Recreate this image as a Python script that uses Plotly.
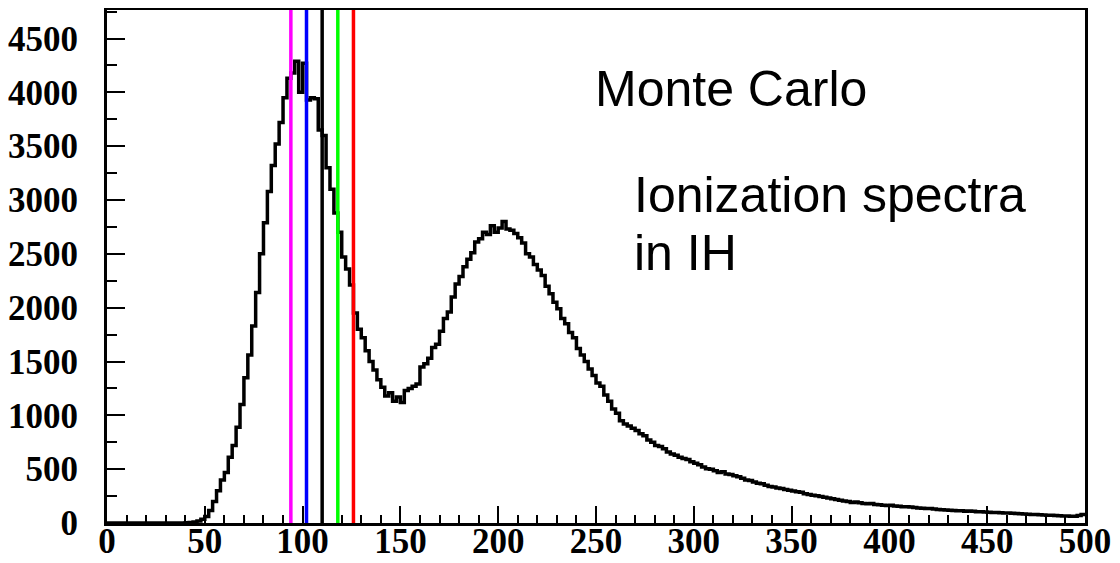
import numpy as np
import plotly.graph_objects as go

# Histogram: bins of width 2 from 0 to 500 (counts per bin)
bin_width = 2
x_min, x_max = 0, 500
counts = [
    0, 0, 0, 0, 0, 0, 0, 0, 0, 0, 0, 0, 0, 0, 0, 0, 0, 0, 0, 0,  # 0-38
    2, 5, 10, 18, 35, 60, 115, 200, 300, 400,                     # 40-58
    470, 610, 720, 890, 1100, 1350, 1560, 1830, 2140, 2500,       # 60-78
    2790, 3080, 3320, 3520, 3720, 3950, 4130, 4180, 4290, 4000,   # 80-98
    4270, 3930, 3950, 3940, 3650, 3600, 3300, 3100, 2880, 2700,   # 100-118
    2470, 2360, 2210, 1950, 1800, 1720, 1600, 1500, 1420, 1330,   # 120-138
    1260, 1180, 1210, 1130, 1170, 1120, 1230, 1250, 1270, 1290,   # 140-158
    1450, 1480, 1530, 1630, 1660, 1780, 1900, 1960, 2100, 2220,   # 160-178
    2290, 2380, 2450, 2510, 2610, 2640, 2700, 2680, 2760, 2700,   # 180-198
    2740, 2800, 2730, 2720, 2690, 2650, 2600, 2500, 2470, 2400,   # 200-218
    2350, 2300, 2200, 2130, 2050, 1990, 1900, 1850, 1770, 1720,   # 220-238
    1620, 1560, 1500, 1430, 1370, 1300, 1270, 1190, 1130, 1060,   # 240-258
    1020, 950, 920, 900, 880, 860, 830, 810, 770, 750,            # 260-278
    720, 710, 690, 660, 640, 630, 610, 600, 590, 570,             # 280-298
    555, 540, 520, 505, 500, 485, 470, 475, 455, 450,             # 300-318
    440, 430, 415, 400, 395, 380, 370, 365, 350, 340,             # 320-338
    335, 325, 320, 312, 305, 298, 290, 285, 272, 265,             # 340-358
    258, 252, 245, 240, 232, 225, 218, 212, 205, 200,             # 360-378
    190, 196, 188, 182, 178, 180, 172, 170, 166, 162,             # 380-398
    164, 158, 155, 152, 150, 148, 145, 140, 138, 135,             # 400-418
    134, 130, 126, 124, 120, 118, 116, 114, 113, 110,             # 420-438
    112, 108, 105, 104, 102, 101, 98, 97, 95, 94,                 # 440-458
    93, 90, 88, 85, 83, 81, 80, 78, 76, 74,                       # 460-478
    72, 72, 70, 68, 66, 64, 62, 63, 70, 78,                       # 480-498
]

# Vertical marker lines (x positions) and colours
marker_x = [94, 102, 110, 118, 126]
marker_colors = ["#ff00ff", "#0000ff", "#000000", "#00ff00", "#ff0000"]

x_ticks = list(range(0, 501, 50))
y_ticks = list(range(0, 4501, 500))
y_max = 4765

edges = np.arange(x_min, x_max + bin_width, bin_width)
y_step = list(counts) + [counts[-1]]

fig = go.Figure()
fig.add_trace(go.Scatter(
    x=edges, y=y_step, mode="lines", line=dict(shape="hv", color="black", width=3.5),
    showlegend=False, hoverinfo="skip",
))

for xv, col in zip(marker_x, marker_colors):
    fig.add_shape(type="line", x0=xv, x1=xv, y0=0, y1=1, xref="x", yref="y domain",
                  line=dict(color=col, width=3.5), layer="above")

tick_font = dict(family="Liberation Serif", size=35, color="black", weight="bold")

# page body has an 8px offset; margins compensate so the plot area sits at
# x 107..1085, y 10..523 in the window
fig.update_layout(
    width=1120, height=563,
    margin=dict(l=99, r=43, t=2, b=48, autoexpand=False),
    paper_bgcolor="white", plot_bgcolor="white",
    xaxis=dict(range=[x_min, x_max], tickvals=x_ticks, ticks="inside", ticklen=17,
               tickwidth=1.5, tickcolor="black", showline=True, linecolor="black",
               linewidth=3, mirror=True, showgrid=False, zeroline=False,
               tickfont=tick_font, ticklabelstandoff=-15, automargin=False,
               minor=dict(dtick=10, ticks="inside", ticklen=8, tickwidth=1.5,
                          tickcolor="black", showgrid=False)),
    yaxis=dict(range=[0, y_max], tickvals=y_ticks, ticks="inside", ticklen=18,
               tickwidth=1.5, tickcolor="black", showline=True, linecolor="black",
               linewidth=3, mirror=True, showgrid=False, zeroline=False,
               tickfont=tick_font, ticklabelstandoff=19, automargin=False,
               minor=dict(dtick=250, ticks="inside", ticklen=10, tickwidth=1.5,
                          tickcolor="black", showgrid=False)),
)

text_font = dict(family="Liberation Sans", size=50, color="black")
px0, pw, py0, ph = 107, 978, 523, 513
fig.add_annotation(text="Monte Carlo", x=(593 - px0) / pw, y=(py0 - 88.5) / ph,
                   xref="paper", yref="paper", xanchor="left", yanchor="middle",
                   showarrow=False, font=text_font)
fig.add_annotation(text="Ionization spectra", x=(632 - px0) / pw, y=(py0 - 195.5) / ph,
                   xref="paper", yref="paper", xanchor="left", yanchor="middle",
                   showarrow=False, font=text_font)
fig.add_annotation(text="in IH", x=(632 - px0) / pw, y=(py0 - 252.5) / ph,
                   xref="paper", yref="paper", xanchor="left", yanchor="middle",
                   showarrow=False, font=text_font)

fig.write_html("out.html")
